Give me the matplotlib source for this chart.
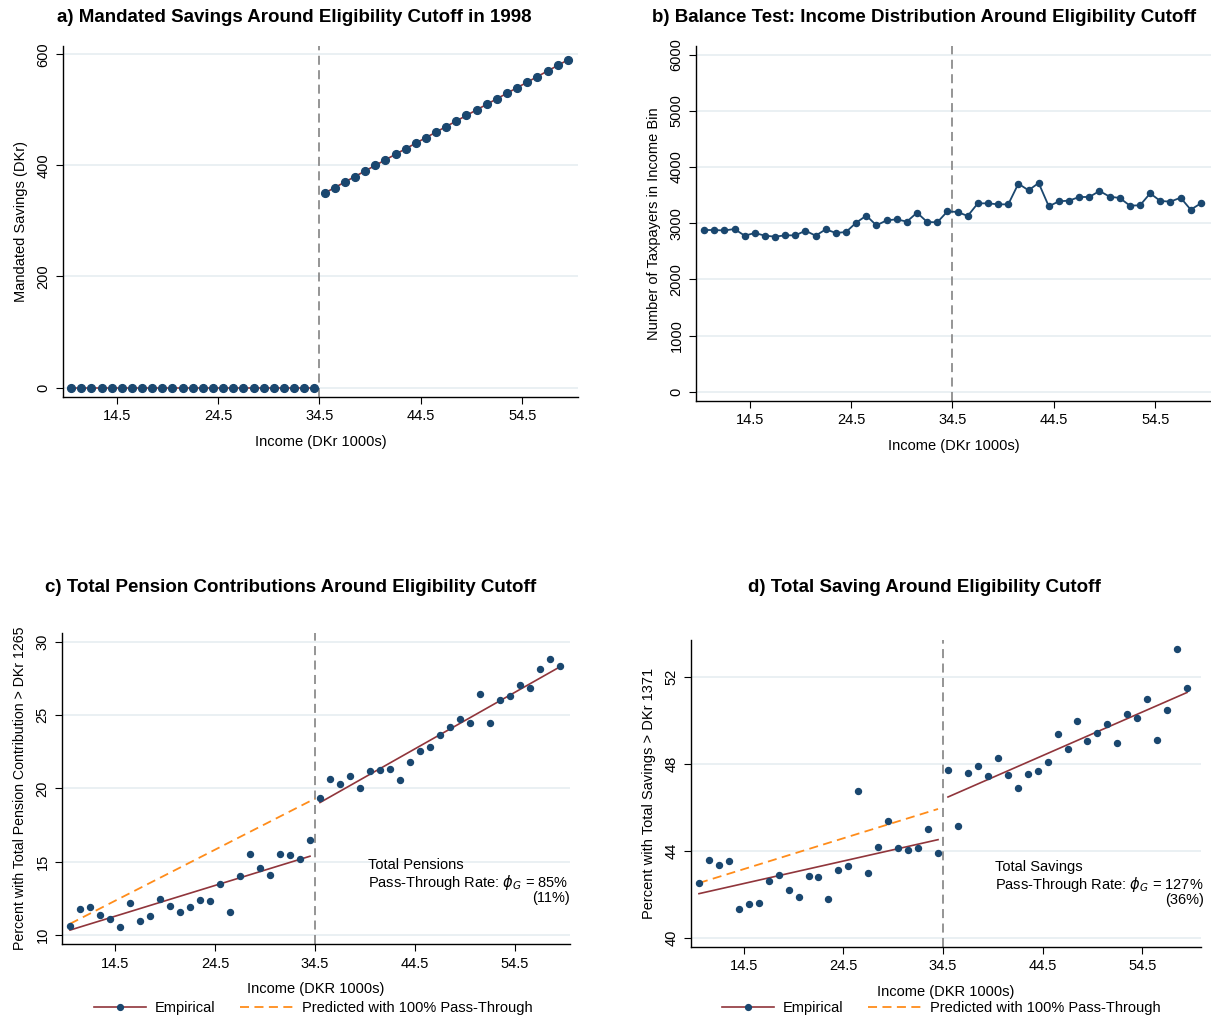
import matplotlib
matplotlib.use("Agg")
import matplotlib.pyplot as plt
import numpy as np

# ---------------- data ----------------
income_bins = [10, 11, 12, 13, 14, 15, 16, 17, 18, 19, 20, 21, 22, 23, 24, 25, 26, 27, 28, 29,
               30, 31, 32, 33, 34, 35, 36, 37, 38, 39, 40, 41, 42, 43, 44, 45, 46, 47, 48, 49,
               50, 51, 52, 53, 54, 55, 56, 57, 58, 59]
cutoff = 34.5
xticks = [14.5, 24.5, 34.5, 44.5, 54.5]

mandated_savings = [0, 0, 0, 0, 0, 0, 0, 0, 0, 0, 0, 0, 0, 0, 0, 0, 0, 0, 0, 0, 0, 0, 0, 0, 0,
                    350, 360, 370, 380, 390, 400, 410, 420, 430, 440, 450, 460, 470, 480, 490,
                    500, 510, 520, 530, 540, 550, 560, 570, 580, 590]

taxpayers = [2878, 2878, 2870, 2896, 2777, 2825, 2777, 2760, 2783, 2783,
             2866, 2777, 2890, 2825, 2843, 3009, 3134, 2961, 3050, 3068,
             3027, 3187, 3021, 3015, 3210, 3199, 3128, 3353, 3353, 3335,
             3335, 3703, 3585, 3715, 3300, 3389, 3401, 3466, 3466, 3573,
             3472, 3448, 3312, 3318, 3531, 3395, 3383, 3454, 3240, 3353]

pension_pct = [10.63, 11.79, 11.90, 11.34, 11.11, 10.54, 12.20, 10.91, 11.31, 12.42,
               11.95, 11.56, 11.88, 12.36, 12.31, 13.49, 11.56, 14.01, 15.55, 14.55,
               14.08, 15.55, 15.46, 15.16, 16.48, 19.35, 20.62, 20.31, 20.87, 20.01,
               21.23, 21.28, 21.35, 20.58, 21.78, 22.55, 22.87, 23.64, 24.18, 24.72,
               24.47, 26.44, 24.47, 26.08, 26.29, 27.10, 26.90, 28.17, 28.87, 28.39]
pension_fit_left_x = [10, 34]
pension_fit_left_y = [10.32, 15.37]
pension_fit_right_x = [35, 59]
pension_fit_right_y = [19.04, 28.32]
pension_pred_x = [10, 34.5]
pension_pred_y = [10.75, 19.31]

saving_pct = [42.54, 43.59, 43.34, 43.56, 41.35, 41.56, 41.59, 42.61, 42.88, 42.22,
              41.87, 42.85, 42.80, 41.79, 43.13, 43.30, 46.74, 42.97, 44.17, 45.39,
              44.15, 44.03, 44.14, 45.03, 43.91, 47.72, 45.13, 47.56, 47.91, 47.45,
              48.29, 47.48, 46.90, 47.52, 47.68, 48.08, 49.39, 48.67, 49.96, 49.07,
              49.43, 49.84, 48.95, 50.27, 50.11, 50.99, 49.09, 50.47, 53.29, 51.49]
saving_fit_left_x = [10, 34]
saving_fit_left_y = [42.04, 44.52]
saving_fit_right_x = [35, 59]
saving_fit_right_y = [46.48, 51.28]
saving_pred_x = [10, 34]
saving_pred_y = [42.53, 45.93]

# ---------------- style ----------------
NAVY = "#1a476f"
MAROON = "#90353b"
ORANGE = "#ff8c1a"
GRID = "#e6eef1"
VLINE = "#8c8c8c"
plt.rcParams['font.family'] = ['Liberation Sans', 'DejaVu Sans']
plt.rcParams['mathtext.fontset'] = 'dejavusans'

W, H = 1211, 1019
fig = plt.figure(figsize=(W / 100, H / 100), dpi=100)


def axes_px(left, top, right, bottom):
    return fig.add_axes([left / W, 1 - bottom / H, (right - left) / W, (bottom - top) / H])


def style(ax, yticks, xlim, ylim, ylabel, xlabel, ylabelsize=10.5):
    ax.set_xlim(*xlim)
    ax.set_ylim(*ylim)
    ax.set_xticks(xticks)
    ax.set_xticklabels([f"{t:.1f}" for t in xticks])
    ax.set_yticks(yticks)
    ax.set_yticklabels([str(t) for t in yticks], rotation=90, va='center')
    for s in ['top', 'right']:
        ax.spines[s].set_visible(False)
    for s in ['left', 'bottom']:
        ax.spines[s].set_linewidth(1.0)
        ax.spines[s].set_color('black')
    ax.tick_params(axis='both', direction='out', length=5, width=0.8, labelsize=10.5, pad=4)
    ax.yaxis.grid(True, color=GRID, linewidth=1.2)
    ax.xaxis.grid(False)
    ax.set_axisbelow(True)
    ax.set_ylabel(ylabel, fontsize=ylabelsize, labelpad=6)
    ax.set_xlabel(xlabel, fontsize=10.5, labelpad=8)
    ax.axvline(cutoff, color=VLINE, linestyle=(0, (5, 3)), linewidth=1.3, zorder=1)


title_kw = dict(fontsize=13.5, fontweight='bold', ha='center', va='center',
                family=['Liberation Sans', 'DejaVu Sans'])

xb = np.array(income_bins)
left = xb < cutoff
right = xb > cutoff

# ---- panel a ----
ax = axes_px(63, 46, 578, 397)
ms = np.array(mandated_savings)
ax.plot(xb[left], ms[left], color=MAROON, linewidth=1.2, zorder=2)
ax.plot(xb[right], ms[right], color=MAROON, linewidth=1.2, zorder=2)
ax.plot(xb, ms, linestyle='none', marker='o', markersize=5.6, color=NAVY, zorder=3)
style(ax, [0, 200, 400, 600], (9.2, 60.0), (-17, 615), "Mandated Savings (DKr)", "Income (DKr 1000s)")
fig.text(294 / W, 1 - 17 / H, "a) Mandated Savings Around Eligibility Cutoff in 1998", **title_kw)

# ---- panel b ----
ax = axes_px(696, 46, 1211, 401)
ax.plot(xb, taxpayers, color=NAVY, linewidth=1.3, marker='o', markersize=4.4, zorder=3)
style(ax, [0, 1000, 2000, 3000, 4000, 5000, 6000], (9.2, 60.0), (-166, 6154),
      "Number of Taxpayers in Income Bin", "Income (DKr 1000s)")
fig.text(924 / W, 1 - 17 / H, "b) Balance Test: Income Distribution Around Eligibility Cutoff", **title_kw)


def rd_panel(ax, y, fl_x, fl_y, fr_x, fr_y, p_x, p_y):
    ax.plot(xb, y, linestyle='none', marker='o', markersize=4.3, color=NAVY, zorder=4)
    ax.plot(fl_x, fl_y, color=MAROON, linewidth=1.2, zorder=3)
    ax.plot(fr_x, fr_y, color=MAROON, linewidth=1.2, zorder=3)
    ax.plot(p_x, p_y, color=ORANGE, linewidth=1.3, linestyle=(0, (5, 3)), zorder=3)


def legend_below(ax, cx, cy):
    h1, = ax.plot([], [], color=MAROON, linewidth=1.2, marker='o', markersize=4.2,
                  markerfacecolor=NAVY, markeredgecolor=NAVY)
    h2, = ax.plot([], [], color=ORANGE, linewidth=1.3, linestyle=(0, (5, 3)))
    fig.legend([h1, h2], ["Empirical", "Predicted with 100% Pass-Through"],
               loc='center', bbox_to_anchor=(cx / W, 1 - cy / H), ncol=2, frameon=False,
               fontsize=10.5, handlelength=3.6, columnspacing=1.7, handletextpad=0.6, numpoints=1)


# ---- panel c ----
ax = axes_px(62, 633, 570, 944)
rd_panel(ax, pension_pct, pension_fit_left_x, pension_fit_left_y, pension_fit_right_x,
         pension_fit_right_y, pension_pred_x, pension_pred_y)
style(ax, [10, 15, 20, 25, 30], (9.2, 60.0), (9.37, 30.63),
      "Percent with Total Pension Contribution > DKr 1265", "Income (DKR 1000s)", ylabelsize=10.2)
fig.text(368 / W, 1 - 865 / H, "Total Pensions", fontsize=10.5, va='center', ha='left')
fig.text(368 / W, 1 - 883 / H, r"Pass-Through Rate: $\phi_G$ = 85%", fontsize=10.5, va='center', ha='left')
fig.text(570 / W, 1 - 898 / H, "(11%)", fontsize=10.5, va='center', ha='right')
fig.text(291 / W, 1 - 588 / H, "c) Total Pension Contributions Around Eligibility Cutoff", **title_kw)
legend_below(ax, 313, 1008)

# ---- panel d ----
ax = axes_px(691, 640, 1201, 947)
rd_panel(ax, saving_pct, saving_fit_left_x, saving_fit_left_y, saving_fit_right_x,
         saving_fit_right_y, saving_pred_x, saving_pred_y)
style(ax, [40, 44, 48, 52], (9.2, 60.4), (39.59, 53.69),
      "Percent with Total Savings > DKr 1371", "Income (DKR 1000s)")
fig.text(995 / W, 1 - 867 / H, "Total Savings", fontsize=10.5, va='center', ha='left')
fig.text(995 / W, 1 - 884 / H, r"Pass-Through Rate: $\phi_G$ = 127%", fontsize=10.5, va='center', ha='left')
fig.text(1204 / W, 1 - 900 / H, "(36%)", fontsize=10.5, va='center', ha='right')
fig.text(924 / W, 1 - 588 / H, "d) Total Saving Around Eligibility Cutoff", **title_kw)
legend_below(ax, 941, 1008)

fig.savefig("out.png", dpi=100, facecolor='white')
